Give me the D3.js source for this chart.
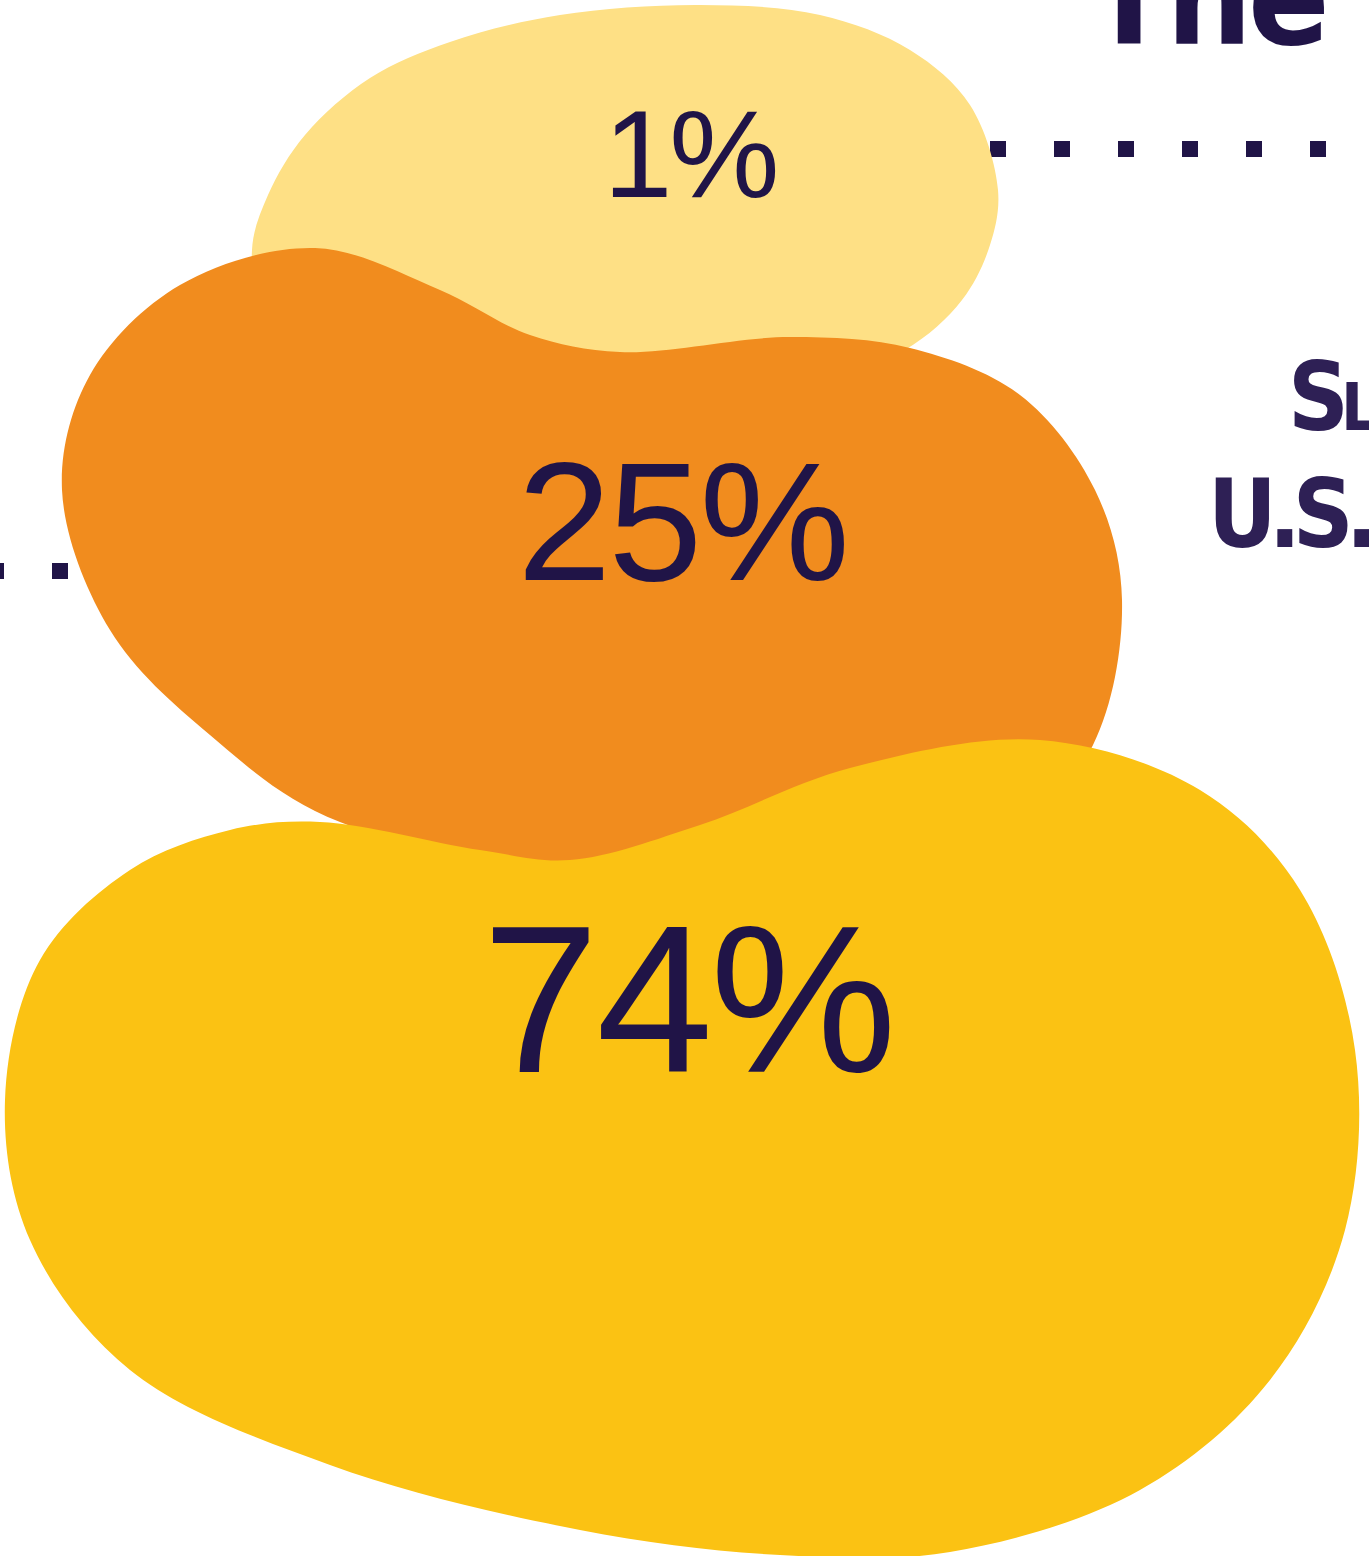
<!DOCTYPE html>
<html>
<head>
<meta charset="utf-8">
<script src="https://cdn.jsdelivr.net/npm/d3@7"></script>
<style>
  html, body { margin: 0; padding: 0; background: #ffffff; }
  svg { display: block; }
</style>
</head>
<body>
<svg id="chart" width="1369" height="1556"></svg>
<script>
// ---- data ----
const categories = ["small", "medium", "large"];
const values = [1, 25, 74];
const labelSuffix = "%";
const titleText = "The";
const subtitleLines = ["Sl", "U.S."];

// ---- layout / style (not data) ----
const W = 1369, H = 1556;
const ink = "#201447";
const colors = { small: "#FEE085", medium: "#F18C1E", large: "#FBC213" };
const labelPos = { small: [690, 197], medium: [682, 580], large: [688, 1072] };
const blobOutlines = {
  small: [[252,250],[268,195],[305,135],[370,78],[450,42],[560,15],[700,5],[820,15],[910,50],
          [970,105],[998,190],[990,245],[962,300],[905,350],[800,390],[600,400],[400,380],[265,320]],
  medium: [[315,248],[440,290],[530,335],[620,352],[790,337],[910,348],[1020,395],[1095,490],
           [1122,600],[1093,745],[1000,850],[700,880],[340,822],[210,735],[110,630],[62,490],
           [90,375],[180,285]],
  large: [[320,822],[480,850],[570,860],[700,825],[850,768],[1040,740],[1200,790],[1300,890],
          [1355,1050],[1345,1230],[1270,1380],[1140,1490],[950,1552],[780,1555],[580,1530],
          [330,1465],[130,1370],[30,1240],[5,1100],[40,960],[130,870],[230,830]]
};

const svg = d3.select("#chart");

// dotted leader lines (drawn beneath blobs)
const dotted = [
  { x1: 1326, x2: 700, y: 149 },
  { x1: 68, x2: -300, y: 571 }
];
svg.selectAll("line.leader").data(dotted).join("line")
  .attr("class", "leader")
  .attr("x1", d => d.x1).attr("x2", d => d.x2)
  .attr("y1", d => d.y).attr("y2", d => d.y)
  .attr("stroke", ink).attr("stroke-width", 16)
  .attr("stroke-dasharray", "16 48");

// blobs
const line = d3.line().curve(d3.curveCatmullRomClosed.alpha(0.5));
svg.selectAll("path.blob").data(categories).join("path")
  .attr("class", "blob")
  .attr("d", c => line(blobOutlines[c]))
  .attr("fill", c => colors[c]);

// label size scale
const fontScale = d3.scaleSqrt().domain([1, 74]).range([124, 210]);

svg.selectAll("text.val").data(categories).join("text")
  .attr("class", "val")
  .attr("x", c => labelPos[c][0])
  .attr("y", c => labelPos[c][1])
  .attr("text-anchor", "middle")
  .attr("fill", ink)
  .attr("font-family", "'Liberation Sans', Arial, sans-serif")
  .attr("font-size", (c, i) => fontScale(values[i]))
  .attr("letter-spacing", -3)
  .text((c, i) => values[i] + labelSuffix);

// title (cropped at the top)
svg.append("text")
  .attr("x", 1088).attr("y", 44)
  .attr("fill", ink)
  .attr("font-family", "'DejaVu Sans Condensed', 'Liberation Sans', sans-serif")
  .attr("font-weight", 700)
  .attr("font-size", 134)
  .attr("letter-spacing", -4)
  .text(titleText);

// subtitle (cropped at the right)
const subFont = "'DejaVu Sans Condensed', 'Liberation Sans', sans-serif";
svg.append("text")
  .attr("x", 1288).attr("y", 430)
  .attr("fill", "#2e2055")
  .attr("font-family", subFont)
  .attr("font-weight", 700)
  .attr("font-size", 94)
  .attr("letter-spacing", -8)
  .style("font-variant", "small-caps")
  .text(subtitleLines[0]);
svg.append("text")
  .attr("x", 1208).attr("y", 547)
  .attr("fill", "#2e2055")
  .attr("font-family", subFont)
  .attr("font-weight", 700)
  .attr("font-size", 94)
  .attr("letter-spacing", -8)
  .text(subtitleLines[1]);
</script>
</body>
</html>
